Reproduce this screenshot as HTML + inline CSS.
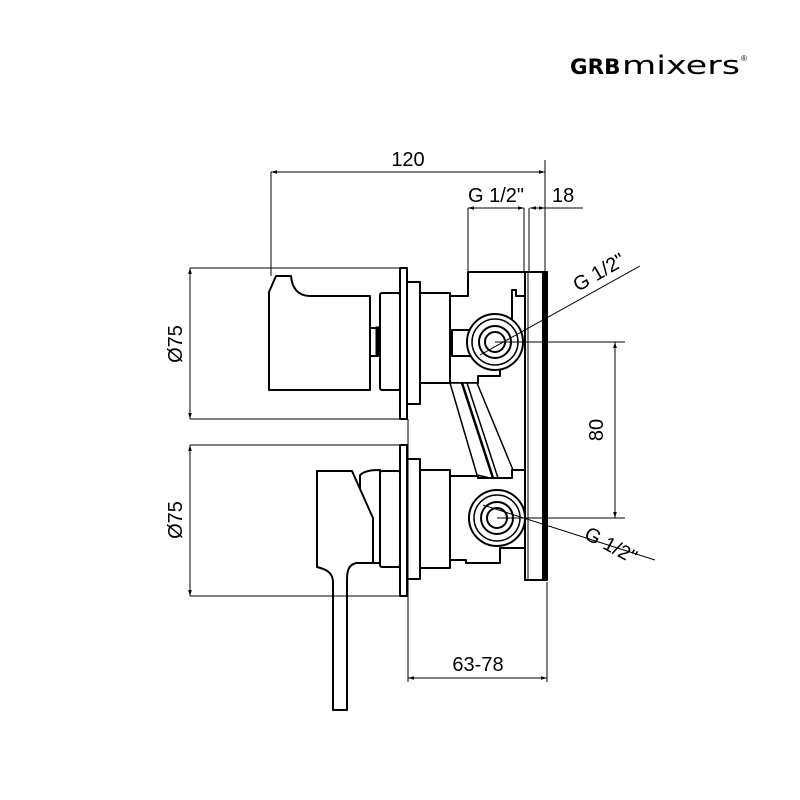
<!DOCTYPE html>
<html><head><style>body{margin:0;background:#fff}svg{display:block}</style></head><body>
<svg width="800" height="800" viewBox="0 0 800 800" xmlns="http://www.w3.org/2000/svg" font-family="Liberation Sans, sans-serif">
<defs><marker id="a" viewBox="0 0 10 10" refX="10" refY="5" markerWidth="6" markerHeight="6" orient="auto-start-reverse"><path d="M0,2 L10,5 L0,8z" fill="#000"/></marker></defs>
<text x="570" y="74" font-size="21" font-weight="bold" font-family="DejaVu Sans, sans-serif" transform="translate(570 0) scale(1.05 1) translate(-570 0)" textLength="48" lengthAdjust="spacingAndGlyphs">GRB</text>
<text x="622" y="74" font-size="26" font-family="DejaVu Sans, sans-serif" textLength="118" lengthAdjust="spacingAndGlyphs">mixers</text>
<text x="741" y="61" font-size="8">®</text>
<g stroke="#000" stroke-width="2" fill="#fff" stroke-linejoin="round">
<!-- body -->
<path d="M468,272 H525 V296 H516 V290 H512 V335 H500 V376 H478 V383 H450 V296 H468 Z"/>
<path d="M450,383 L477,475 L490,478 H512 L513,470 L477,383 Z" stroke-width="1.5"/>
<line x1="462" y1="383" x2="493" y2="478" stroke-width="2.5"/>
<line x1="467" y1="383" x2="498" y2="478" stroke-width="1.5"/>
<path d="M450,476 H478 V478 L512,478 V470 H525 V548 H500 V563 H466 V560 H450 Z"/>
<line x1="477" y1="475" x2="477" y2="476"/>
<rect x="452" y="330" width="20" height="26"/>
<circle cx="495" cy="342" r="28"/><circle cx="495" cy="342" r="23" stroke-width="1.5"/><circle cx="495" cy="342" r="16"/><circle cx="495" cy="342" r="10"/>
<circle cx="497" cy="518" r="28"/><circle cx="497" cy="518" r="23" stroke-width="1.5"/><circle cx="497" cy="518" r="16"/><circle cx="497" cy="518" r="10"/>
<!-- wall plate -->
<rect x="525" y="272" width="22" height="308"/>
<rect x="543" y="272" width="4" height="308" fill="#000"/>
<line x1="528" y1="272" x2="528" y2="580" stroke-width="1"/>
<!-- top handle -->
<path d="M269,390 V292 L276,276 H291 C292,288 298,296 310,296 H370 V390 Z"/>
<rect x="370" y="328" width="8" height="28"/>
<rect x="376" y="327" width="3" height="28" fill="#000" stroke-width="1"/>
<rect x="380" y="293" width="20" height="97" rx="2"/>
<rect x="400" y="268" width="7" height="151"/>
<rect x="407" y="282" width="13" height="122"/>
<rect x="420" y="293" width="30" height="90"/>
<!-- bottom handle -->
<path d="M360,475 C366,470 374,470 380,470 V563 H360 Z"/>
<path d="M317,471 H352 L373,518 V563 H356 C348,565 347,572 347,580 V710 H333 V582 C333,572 325,569 317,567 Z"/>
<rect x="380" y="471" width="20" height="96" rx="2"/>
<rect x="400" y="445" width="7" height="151"/>
<rect x="407" y="459" width="13" height="120"/>
<rect x="420" y="470" width="30" height="98"/>
</g>
<g stroke="#000" stroke-width="1" fill="none">
<line x1="271" y1="172" x2="545" y2="172" marker-start="url(#a)" marker-end="url(#a)"/>
<line x1="271" y1="172" x2="271" y2="276"/><line x1="545" y1="160" x2="545" y2="272"/>
<line x1="468" y1="208" x2="524" y2="208" marker-start="url(#a)" marker-end="url(#a)"/>
<line x1="468" y1="208" x2="468" y2="272"/><line x1="524" y1="208" x2="524" y2="272"/>
<line x1="530" y1="208" x2="545" y2="208" marker-start="url(#a)" marker-end="url(#a)"/>
<line x1="545" y1="208" x2="583" y2="208"/>
<line x1="529" y1="208" x2="529" y2="272"/>
<line x1="190" y1="268" x2="400" y2="268"/><line x1="190" y1="419" x2="400" y2="419"/>
<line x1="190" y1="268" x2="190" y2="419" marker-start="url(#a)" marker-end="url(#a)"/>
<line x1="190" y1="445" x2="400" y2="445"/><line x1="190" y1="596" x2="400" y2="596"/>
<line x1="190" y1="445" x2="190" y2="596" marker-start="url(#a)" marker-end="url(#a)"/>
<line x1="495" y1="342" x2="625" y2="342"/><line x1="497" y1="518" x2="625" y2="518"/>
<line x1="615" y1="342" x2="615" y2="518" marker-start="url(#a)" marker-end="url(#a)"/>
<line x1="408" y1="419" x2="408" y2="682"/><line x1="547" y1="582" x2="547" y2="682"/>
<line x1="408" y1="678" x2="547" y2="678" marker-start="url(#a)" marker-end="url(#a)"/>
<line x1="480" y1="355" x2="640" y2="266"/>
<line x1="483" y1="505" x2="655" y2="560"/>
</g>
<g font-size="20" fill="#000">
<text x="408" y="166" text-anchor="middle">120</text>
<text x="496" y="202" text-anchor="middle">G 1/2"</text>
<text x="552" y="202">18</text>
<text x="578" y="292" transform="rotate(-30 578 292)">G 1/2"</text>
<text x="583" y="538" transform="rotate(28 583 538)">G 1/2"</text>
<text x="603" y="430" transform="rotate(-90 603 430)" text-anchor="middle">80</text>
<text x="182" y="344" transform="rotate(-90 182 344)" text-anchor="middle">Ø75</text>
<text x="182" y="520" transform="rotate(-90 182 520)" text-anchor="middle">Ø75</text>
<text x="478" y="671" text-anchor="middle">63-78</text>
</g>
</svg>
</body></html>
